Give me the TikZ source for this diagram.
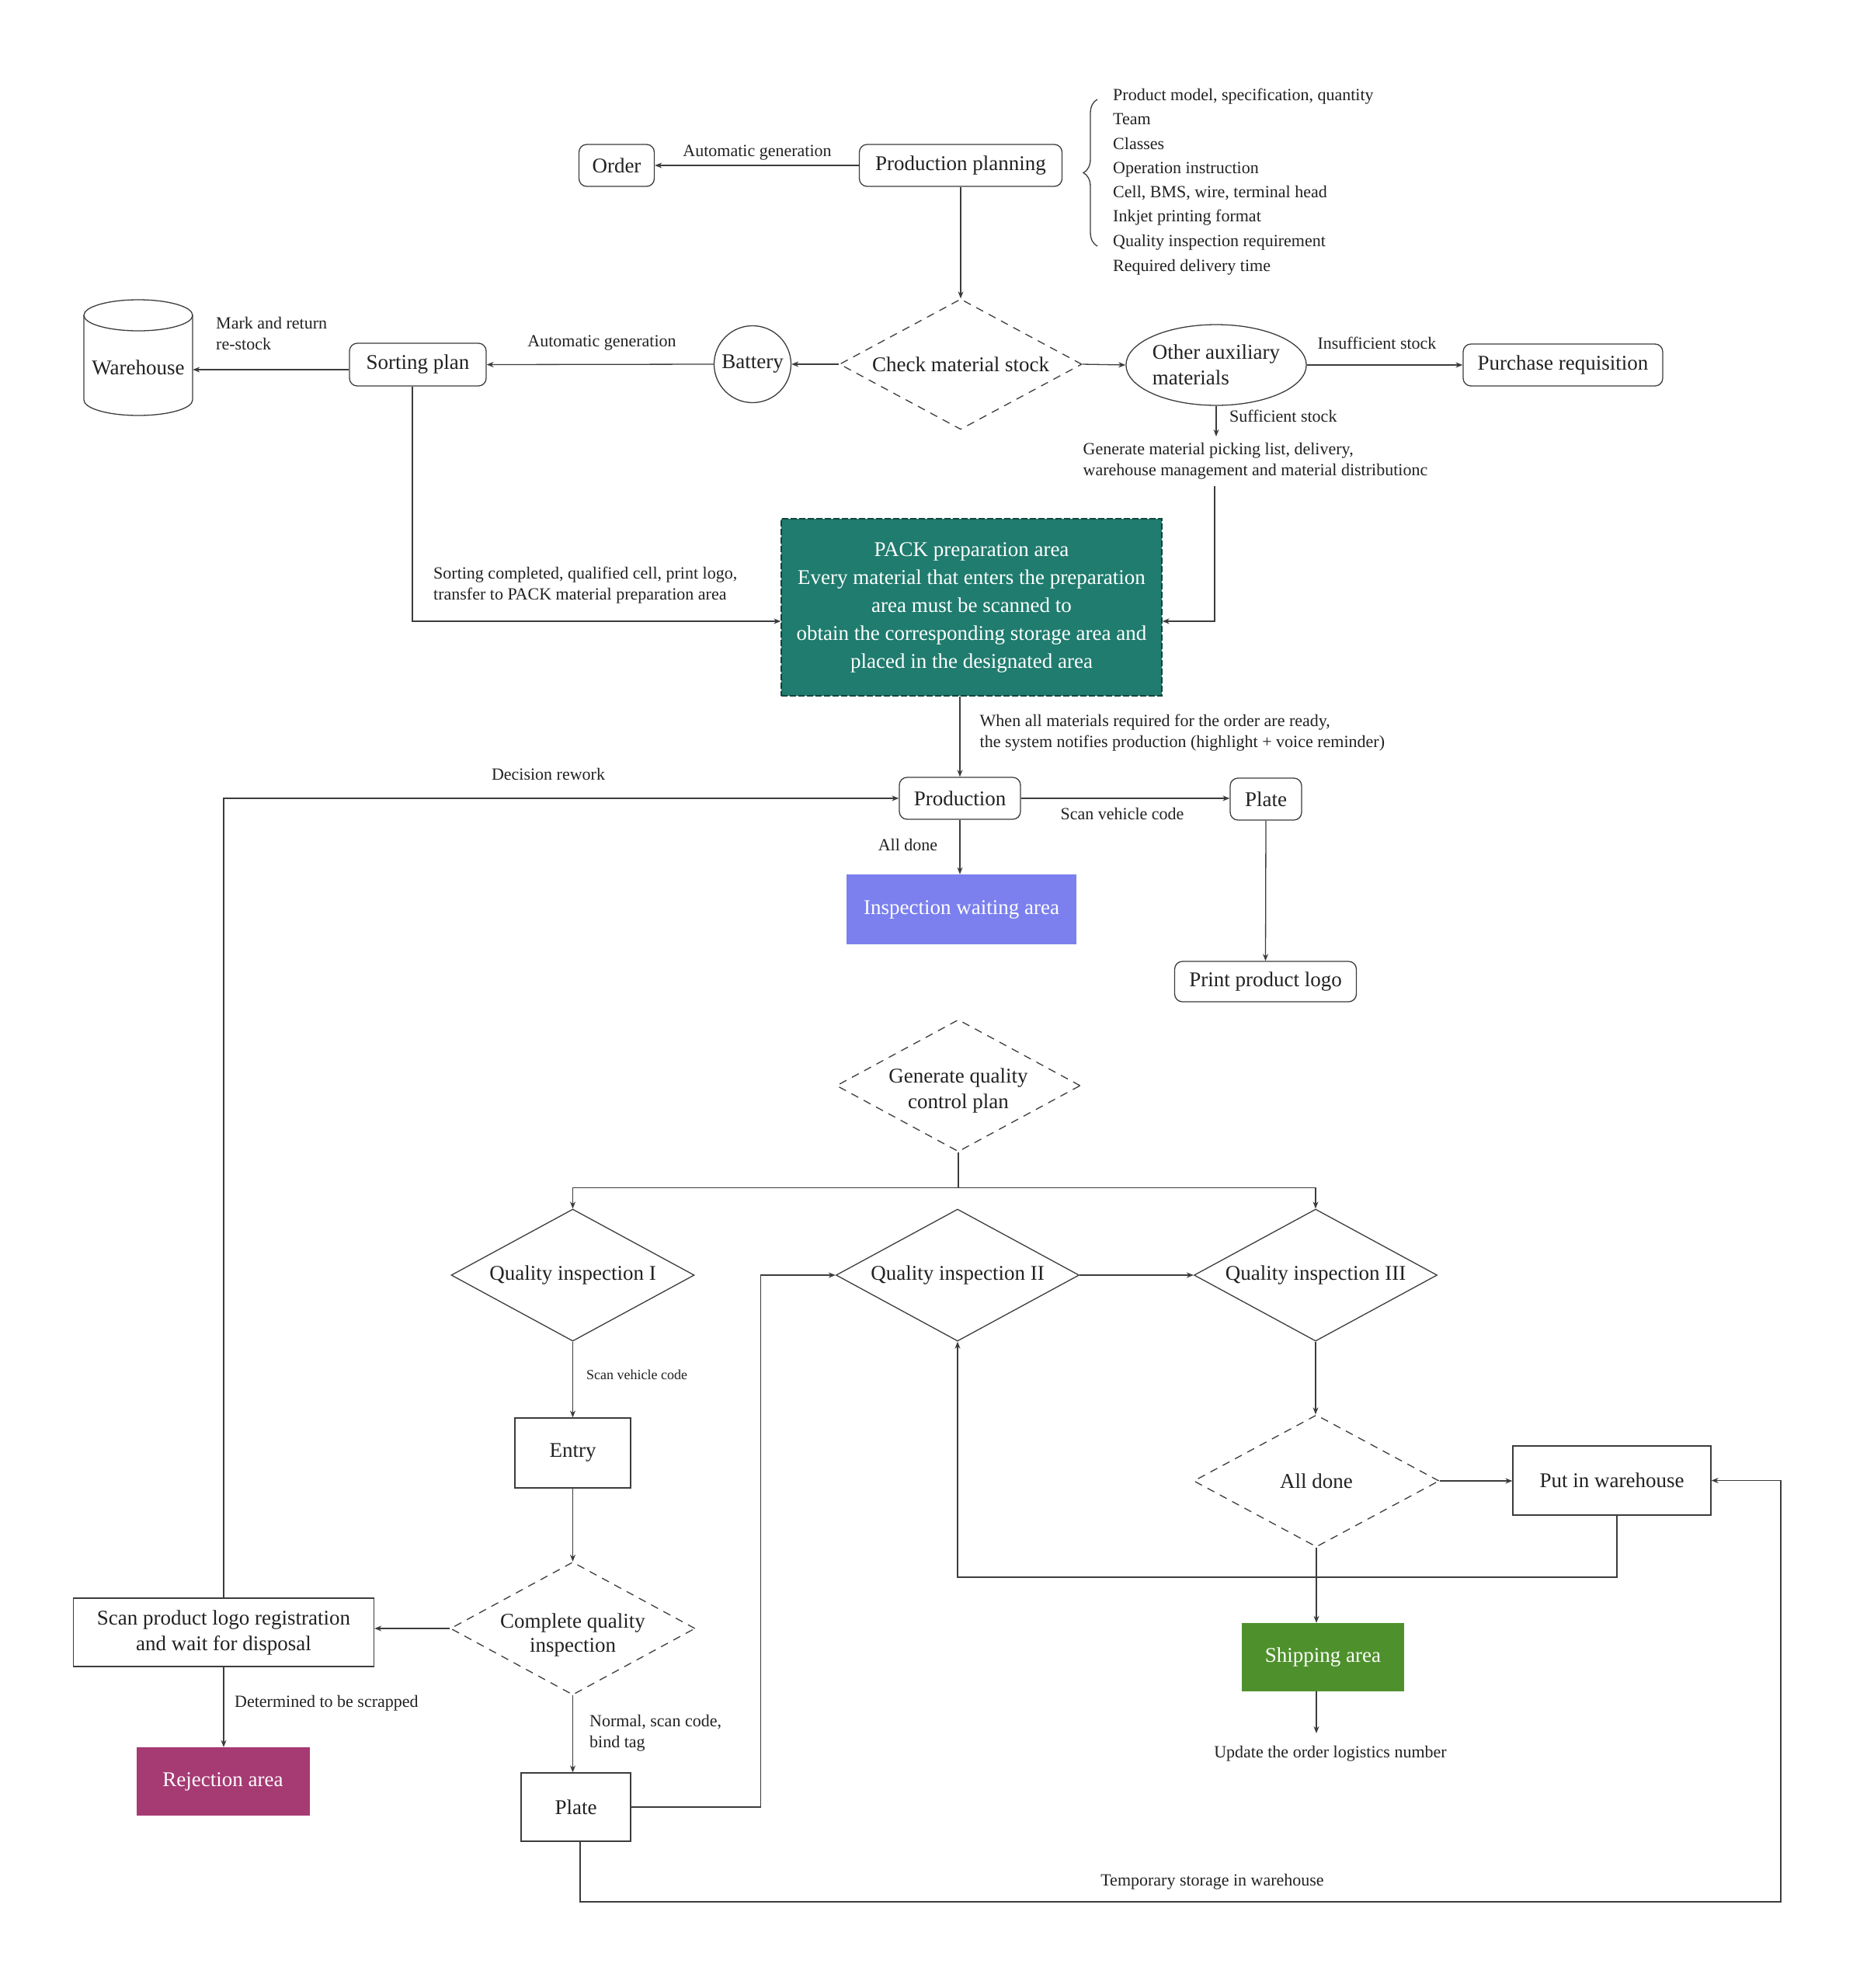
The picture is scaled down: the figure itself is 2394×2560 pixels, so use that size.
\documentclass[tikz,border=0pt]{standalone}
\usepackage{fontspec}
\setmainfont{Liberation Serif}
\usetikzlibrary{shapes.geometric,arrows.meta,decorations.pathreplacing}
\definecolor{ln}{HTML}{3C3C3C}
\definecolor{tx}{HTML}{222222}
\definecolor{packc}{HTML}{1F7C6E}
\definecolor{waitc}{HTML}{7B80EE}
\definecolor{rejc}{HTML}{A63A73}
\definecolor{shipc}{HTML}{4E912C}
\begin{document}
\begin{tikzpicture}[x=1pt,y=-1pt,
  every node/.style={text=tx},
  big/.style={font=\fontsize{27}{33}\selectfont},
  lbl/.style={font=\fontsize{22}{27}\selectfont, inner sep=0pt},
  sml/.style={font=\fontsize{18}{22}\selectfont, inner sep=0pt},
  rbox/.style={big, draw=ln, line width=1.3pt, rounded corners=10pt, inner sep=0pt},
  sbox/.style={big, draw=ln, line width=1.3pt, inner sep=0pt},
  fbox/.style={big, inner sep=0pt, text=white},
  dia/.style={big, diamond, draw=ln, line width=1.3pt, inner sep=0pt, aspect=1.85, align=center},
  ddia/.style={dia, dash pattern=on 10pt off 8pt},
  arr/.style={draw=ln, line width=1.3pt, -{Stealth[length=9pt,width=7pt]}},
  ln/.style={draw=ln, line width=1.3pt},
]
\fill[white] (0,0) rectangle (2394,2560);
\useasboundingbox (0,0) rectangle (2394,2560);

% top row
\node[rbox, minimum width=97pt, minimum height=54pt] (order) at (794,213) {Order};
\node[rbox, minimum width=261pt, minimum height=54pt] (pp) at (1237,213) {Production planning};
\draw[arr] (pp.west) -- (order.east);
\node[lbl] (lagen1) at (975,197) {Automatic generation};

% brace and list
\draw[ln, decorate, decoration={brace, amplitude=18pt}] (1413,317) -- (1413,128);
\node[lbl, anchor=base west] (li1) at (1433,129) {Product model, specification, quantity};
\node[lbl, anchor=base west] (li2) at (1433,160) {Team};
\node[lbl, anchor=base west] (li3) at (1433,192) {Classes};
\node[lbl, anchor=base west] (li4) at (1433,223) {Operation instruction};
\node[lbl, anchor=base west] (li5) at (1433,254) {Cell, BMS, wire, terminal head};
\node[lbl, anchor=base west] (li6) at (1433,285) {Inkjet printing format};
\node[lbl, anchor=base west] (li7) at (1433,317) {Quality inspection requirement};
\node[lbl, anchor=base west] (li8) at (1433,349) {Required delivery time};

% check row
\node[ddia, minimum width=312pt, minimum height=168pt] (check) at (1237,469) {Check material stock};
\draw[arr] (pp.south) -- (check.north);
\node[big, circle, draw=ln, line width=1.3pt, inner sep=0pt, minimum size=99pt] (bat) at (969,469) {Battery};
\draw[arr] (check.west) -- (bat.east);
\node[rbox, minimum width=176pt, minimum height=55pt] (sp) at (538,469.5) {Sorting plan};
\draw[arr] (bat.west) -- (sp.east);
\node[lbl] (lagen2) at (775,442) {Automatic generation};

% warehouse cylinder
\draw[ln, fill=white] (108,406) -- (108,515) arc[start angle=180, end angle=360, x radius=70pt, y radius=20pt] -- (248,406);
\draw[ln] (178,406) ellipse[x radius=70pt, y radius=20pt];
\node[big, inner sep=0pt, minimum width=140pt] (wh) at (178,473) {Warehouse};
\draw[arr] ([yshift=-6.5pt]sp.west) -- ([yshift=-3pt]wh.east);
\node[lbl, anchor=west, align=left] (lmark) at (278,429.5) {Mark and return\\re-stock};

% other aux
\node[big, ellipse, draw=ln, line width=1.3pt, inner sep=0pt, minimum width=220pt, minimum height=104pt, align=left] (oa) at (1566,470) {Other auxiliary\\materials};
\draw[arr] (check.east) -- (oa.west);
\node[rbox, minimum width=257pt, minimum height=54pt] (pr) at (2012.5,470) {Purchase requisition};
\draw[arr] (oa.east) -- (pr.west);
\node[lbl] (linsuf) at (1773,442) {Insufficient stock};
\coordinate (sufend) at (1566,562);
\draw[arr] (oa.south) -- (sufend);
\node[lbl, anchor=west] (lsuf) at (1583,536) {Sufficient stock};
\node[lbl, anchor=west, align=left] (gen) at (1394.5,593.5) {Generate material picking list, delivery,\\warehouse management and material distributionc};
\coordinate (genout) at (1564,626);

% PACK
\node[fbox, fill=packc, draw=packc!55!black, dash pattern=on 8pt off 3pt, line width=1.3pt, minimum width=490pt, minimum height=228pt, align=center, font=\fontsize{27}{36}\selectfont] (pack) at (1251,782) {PACK preparation area\\Every material that enters the preparation\\area must be scanned to\\obtain the corresponding storage area and\\placed in the designated area};
\draw[arr] ([xshift=-7pt]sp.south) |- ([yshift=-18pt]pack.west);
\node[lbl, anchor=west, align=left] (lsort) at (558,754) {Sorting completed, qualified cell, print logo,\\transfer to PACK material preparation area};
\draw[arr] (genout) |- ([yshift=-18pt]pack.east);

% production row
\node[rbox, minimum width=156pt, minimum height=54pt] (prod) at (1236,1028) {Production};
\draw[arr] (prod.north |- pack.south) -- (prod.north);
\node[lbl, anchor=west, align=left] (lwhen) at (1261.5,943.5) {When all materials required for the order are ready,\\the system notifies production (highlight + voice reminder)};
\node[rbox, minimum width=92pt, minimum height=54pt] (plt) at (1630,1029) {Plate};
\draw[arr] (prod.east) -- (prod.east -| plt.west);
\node[lbl] (lscan1) at (1445,1048) {Scan vehicle code};
\node[rbox, minimum width=234pt, minimum height=52pt] (ppl) at (1629.5,1264) {Print product logo};
\draw[arr] (plt.south) -- (ppl.north);
\node[fbox, fill=waitc, minimum width=296pt, minimum height=90pt] (iwa) at (1238,1171) {Inspection waiting area};
\draw[arr] (prod.south) -- (prod.south |- iwa.north);
\node[lbl] (lalld) at (1169,1088) {All done};

% quality plan
\node[ddia, minimum width=314pt, minimum height=170pt] (gq) at (1234,1398) {};
\node[big, align=center, inner sep=0pt] (gqt) at ([yshift=-6pt]gq.center) {Generate quality\\control plan};
\draw[ln] (gq.south) -- ++(0,46) coordinate (fk);
\node[dia, minimum width=313pt, minimum height=170pt] (q1) at (737.5,1642) {Quality inspection I};
\node[dia, minimum width=313pt, minimum height=170pt] (q2) at (1233,1642) {Quality inspection II};
\node[dia, minimum width=313pt, minimum height=170pt] (q3) at (1694,1642) {Quality inspection III};
\draw[arr] (fk) -| (q1.north);
\draw[arr] (fk) -| (q3.north);
\draw[arr] (q2.east) -- (q3.west);

% left branch
\node[sbox, minimum width=149pt, minimum height=90pt] (entry) at (737.5,1871) {Entry};
\draw[arr] (q1.south) -- (entry.north);
\node[sml, anchor=west] (lscan2) at (755,1770) {Scan vehicle code};
\node[ddia, minimum width=315pt, minimum height=171pt] (cqi) at (737.5,2097) {};
\node[big, align=center, inner sep=0pt, font=\fontsize{27}{31}\selectfont] (cqit) at ([yshift=-8pt]cqi.center) {Complete quality\\inspection};
\draw[arr] (entry.south) -- (cqi.north);
\node[sbox, minimum width=387pt, minimum height=88pt, align=center] (scan) at (288,2102) {Scan product logo registration\\and wait for disposal};
\draw[arr] (cqi.west) -- (cqi.west -| scan.east);
\node[fbox, fill=rejc, minimum width=223pt, minimum height=88pt] (rej) at (287,2294) {Rejection area};
\draw[arr] (scan.south) -- (scan.south |- rej.north);
\node[lbl, anchor=west] (lscrap) at (302,2193) {Determined to be scrapped};
\draw[arr] (scan.north) |- (prod.west);
\node[lbl] (lrew) at (706,997) {Decision rework};
\node[sbox, minimum width=141pt, minimum height=88pt] (pb) at (741.5,2327) {Plate};
\draw[arr] (cqi.south) -- (cqi.south |- pb.north);
\node[lbl, anchor=west, align=left] (lnorm) at (759,2231.5) {Normal, scan code,\\bind tag};
\draw[arr] (pb.east) -- ++(167,0) |- (q2.west);

% right branch
\node[ddia, minimum width=316pt, minimum height=170pt] (ad) at (1695,1907) {All done};
\draw[arr] (q3.south) -- (q3.south |- ad.north);
\node[sbox, minimum width=255pt, minimum height=89pt] (pw) at (2075.5,1906.5) {Put in warehouse};
\draw[arr] (ad.east) -- (ad.east -| pw.west);
\coordinate (lp) at (1233,2031);
\draw[arr] ([xshift=6.5pt]pw.south) |- (lp) -- (q2.south);
\node[fbox, fill=shipc, minimum width=209pt, minimum height=88pt] (ship) at (1703.5,2134) {Shipping area};
\draw[arr] (ad.south) -- (ad.south |- ship.north);
\coordinate (updend) at (1695,2232);
\draw[arr] (ad.south |- ship.south) -- (updend);
\node[lbl] (lupd) at (1713,2258) {Update the order logistics number};

% temporary storage
\coordinate (tsr) at (2293,2449);
\draw[arr] ([xshift=5.5pt]pb.south) |- (tsr) |- (pw.east);
\node[lbl] (ltemp) at (1561,2423) {Temporary storage in warehouse};
\end{tikzpicture}
\end{document}
